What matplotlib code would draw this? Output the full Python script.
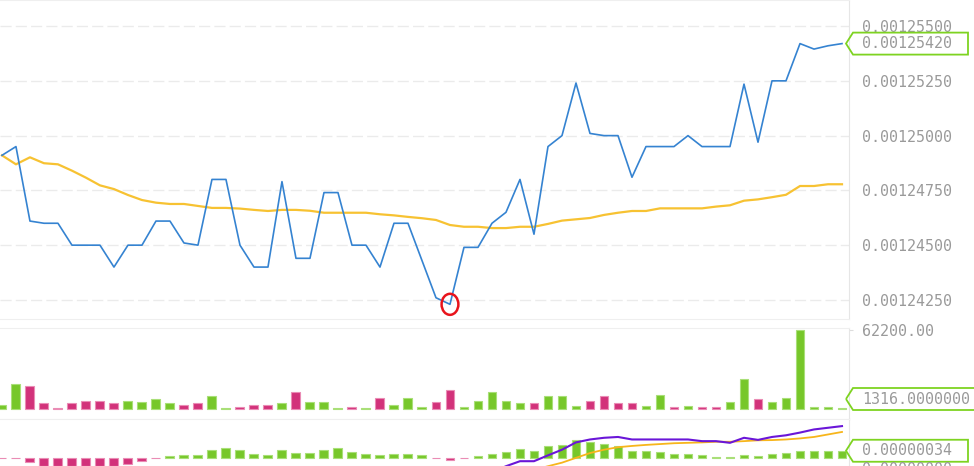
import numpy as np
import matplotlib.pyplot as plt
from matplotlib.patches import Polygon, Ellipse
from matplotlib.ticker import FormatStrFormatter

plt.rcParams['font.family'] = ['DejaVu Sans Mono']

# close price (blue) and its moving average (yellow)
close = [0.00124910, 0.00124950, 0.00124610, 0.00124600, 0.00124600, 0.00124500, 0.00124500, 0.00124500, 0.00124400, 0.00124500,
         0.00124500, 0.00124610, 0.00124610, 0.00124510, 0.00124500, 0.00124800, 0.00124800, 0.00124500, 0.00124400, 0.00124400,
         0.00124790, 0.00124440, 0.00124440, 0.00124740, 0.00124740, 0.00124500, 0.00124500, 0.00124400, 0.00124600, 0.00124600,
         0.00124430, 0.00124260, 0.00124230, 0.00124490, 0.00124490, 0.00124600, 0.00124650, 0.00124800, 0.00124550, 0.00124950,
         0.00125000, 0.00125240, 0.00125010, 0.00125000, 0.00125000, 0.00124810, 0.00124950, 0.00124950, 0.00124950, 0.00125000,
         0.00124950, 0.00124950, 0.00124950, 0.00125235, 0.00124970, 0.00125250, 0.00125250, 0.00125420, 0.00125395, 0.00125410,
         0.00125420]
ma = [0.00124910, 0.00124869, 0.00124901, 0.00124874, 0.00124869, 0.00124840, 0.00124808, 0.00124773, 0.00124756, 0.00124729,
      0.00124706, 0.00124694, 0.00124688, 0.00124688, 0.00124679, 0.00124670, 0.00124670, 0.00124667, 0.00124661, 0.00124656,
      0.00124661, 0.00124661, 0.00124657, 0.00124648, 0.00124648, 0.00124648, 0.00124648, 0.00124641, 0.00124636, 0.00124629,
      0.00124623, 0.00124615, 0.00124592, 0.00124584, 0.00124584, 0.00124578, 0.00124578, 0.00124584, 0.00124584, 0.00124597,
      0.00124612, 0.00124618, 0.00124624, 0.00124638, 0.00124648, 0.00124656, 0.00124656, 0.00124668, 0.00124668, 0.00124668,
      0.00124668, 0.00124676, 0.00124682, 0.00124703, 0.00124709, 0.00124719, 0.00124730, 0.00124770, 0.00124770, 0.00124778,
      0.00124778]
price_ticks = [0.0012425, 0.0012450, 0.0012475, 0.0012500, 0.0012525, 0.0012550]

# volume, g = up bar, r = down bar
volume = [3400, 19860, 18550, 4700, 1300, 4700, 6800, 6800, 5200, 6800,
          5750, 8100, 4700, 3660, 4700, 10200, 1300, 2090, 3400, 3400,
          4700, 13850, 5750, 5750, 1300, 2090, 1300, 9150, 3400, 9150,
          2090, 5750, 15150, 2090, 6800, 13850, 6800, 4700, 4700, 10200,
          10200, 2600, 6800, 10200, 4700, 4700, 2600, 11240, 2090, 2600,
          2090, 2090, 5750, 23500, 8100, 5750, 9150, 62200, 2090, 2090,
          1316]
vol_side = list("ggrrrrrrrg" "gggrrggrrr" "grgggrgrgg" "grrgggggrg" "ggrrrrggrg" "rrggrggggg" "g")
vol_max = 62200

# MACD panel, units of 1e-8 (nan = below the visible part)
nan = np.nan
macd_hist = [-1, -1, -20, -45, -50, -52, -55, -55, -52, -31,
             -13, -2, 11, 15, 15, 39, 45, 37, 19, 15,
             37, 22, 22, 39, 45, 28, 20, 15, 19, 19,
             15, -1, -12, -1, 8, 19, 26, 42, 34, 57,
             62, 84, 78, 68, 57, 34, 34, 26, 19, 19,
             14, 6, 3, 14, 8, 19, 22, 34, 34, 34,
             34]
dif = [nan] * 35 + [-70, -40, -16, -16, 12,
                    39, 74, 88, 96, 100, 88, 88, 88, 88, 88,
                    80, 80, 72, 96, 86, 100, 108, 121, 136, 144,
                    152]
dea = [nan] * 38 + [-58, -40,
                    -23, 0, 23, 39, 51, 57, 62, 66, 70, 72,
                    74, 77, 77, 80, 84, 85, 88, 93, 100, 112,
                    124]

W, H = 974, 466
GREEN, GREEN_E = '#77c72a', '#a9df78'
PINK, PINK_E = '#d2327a', '#ea8cb5'
TXT = '#9a9a9a'

fig = plt.figure(figsize=(W / 100, H / 100), dpi=100)


def rect(top, bottom, right=849):
    return [0, 1 - bottom / H, right / W, (bottom - top) / H]


ax = fig.add_axes(rect(0, 319))
axv = fig.add_axes(rect(328, 419))
axm = fig.add_axes(rect(419, 466))

x = np.arange(len(close))
for a in (ax, axv, axm):
    a.set_xlim(-0.14, 60.5)
    a.set_xticks([])
    a.spines['left'].set_visible(False)
    for s in ('top', 'bottom'):
        a.spines[s].set_color('#efefef')
    a.spines['right'].set_color('#e6e6e6')
    a.yaxis.tick_right()

# price panel
ax.plot(x, ma, color='#f7c232', lw=1.6, zorder=2)
ax.plot(x, close, color='#3583d1', lw=1.2, zorder=3)
ax.set_ylim(0.00124163, 0.00125619)
ax.set_yticks(price_ticks)
ax.yaxis.set_major_formatter(FormatStrFormatter('%.8f'))
ax.tick_params(axis='y', length=0, pad=9.5, labelsize=10.8, labelcolor=TXT)
ax.grid(axis='y', color='#ebebeb', ls=(0, (8, 3)), lw=1)
ax.add_patch(Ellipse((32, close[32]), 1.2, 9.6e-7, fill=False, edgecolor='#e8141c', lw=1.8, zorder=4))

# volume panel
fc = [GREEN if s == 'g' else PINK for s in vol_side]
ec = [GREEN_E if s == 'g' else PINK_E for s in vol_side]
axv.bar(x, volume, width=0.64, color=fc, edgecolor=ec, lw=0.8)
axv.set_ylim(-7600, 63770)
axv.set_yticks([vol_max])
axv.yaxis.set_major_formatter(FormatStrFormatter('%.2f'))
axv.tick_params(axis='y', length=3, color='#dddddd', pad=6.5, labelsize=10.8, labelcolor=TXT)

# MACD panel
hist = np.array(macd_hist) * 1e-8
axm.bar(x, hist, width=0.64, color=[GREEN if v >= 0 else PINK for v in hist],
        edgecolor=[GREEN_E if v >= 0 else PINK_E for v in hist], lw=0.8)
axm.plot(x, np.array(dea) * 1e-8, color='#f7b51b', lw=1.3)
axm.plot(x, np.array(dif) * 1e-8, color='#6a16d8', lw=1.5)
axm.set_ylim(-39e-8, 186e-8)
axm.set_yticks([])


def tag(a, value, text, min_up=None, right=968):
    yc = a.transData.transform((0, value))[1]
    if min_up is not None:
        bottom = a.transAxes.transform((0, 0))[1]
        yc = max(yc, bottom + min_up)
    pts = [(846, yc), (853, yc + 11), (right, yc + 11), (right, yc - 11), (853, yc - 11)]
    fig.patches.append(Polygon([(px / W, py / H) for px, py in pts], closed=True, fill=False,
                               edgecolor='#7ed321', lw=1.3, transform=fig.transFigure))
    fig.text(862 / W, yc / H, text, color=TXT, fontsize=10.8, va='center', ha='left')


tag(ax, close[-1], f'{close[-1]:.8f}')
tag(axv, volume[-1], f'{volume[-1]:.7f}', min_up=20, right=995)
tag(axm, hist[-1], f'{hist[-1]:.8f}')
fig.text(862 / W, -3 / H, f'{0:.8f}', color=TXT, fontsize=10.8, va='center', ha='left')

fig.savefig('out.png', dpi=100)
